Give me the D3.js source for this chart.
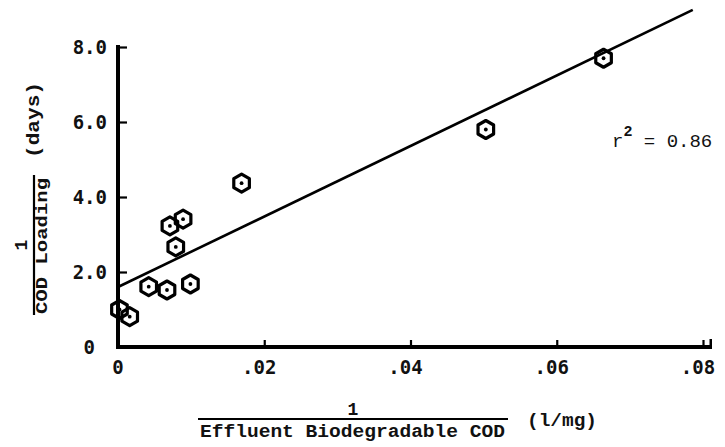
<!DOCTYPE html>
<html>
<head>
<meta charset="utf-8">
<script src="https://cdn.jsdelivr.net/npm/d3@7/dist/d3.min.js"></script>
<style>
  html, body { margin: 0; padding: 0; background: #fff; }
  svg { display: block; }
  .tick-label { font-family: "DejaVu Sans Mono", monospace; font-weight: bold; font-size: 19px; fill: #111; }
  .title { font-family: "Liberation Mono", "Courier New", monospace; font-weight: bold; fill: #111; }
</style>
</head>
<body>
<svg id="chart" width="725" height="447"></svg>
<script>
// Observations: reciprocal effluent biodegradable COD (l/mg) vs reciprocal COD loading (days)
const invEffluentCOD = [0.0002, 0.0016, 0.0042, 0.0067, 0.0071, 0.0079, 0.0089, 0.0099, 0.0169, 0.0503, 0.0664];
const invCODLoading  = [1.00,   0.81,   1.61,   1.52,   3.23,   2.67,   3.41,   1.68,   4.37,   5.80,   7.70];

// Least-squares fit line
const fitIntercept = 1.60;
const fitSlope = 94.0;
const fitXRange = [0, 0.0786];
const rSquared = "0.86";

// Axis ticks
const xTicks = [0, 0.02, 0.04, 0.06, 0.08];
const xTickLabels = ["0", ".02", ".04", ".06", ".08"];
const yTicks = [0, 2, 4, 6, 8];
const yTickLabels = ["0", "2.0", "4.0", "6.0", "8.0"];

const svg = d3.select("#chart");
const x = d3.scaleLinear().domain([0, 0.08]).range([118, 703]);
const y = d3.scaleLinear().domain([0, 8]).range([347, 47]);

const ink = "#000";

// Axes: heavy frame lines with short inward ticks
const xAxis = d3.axisTop(x).tickValues(xTicks.slice(1)).tickSize(7).tickFormat("");
const gx = svg.append("g").attr("transform", `translate(0,${y(0)})`).call(xAxis);
gx.select(".domain").remove();
gx.selectAll(".tick line").attr("stroke", ink).attr("stroke-width", 2.2);

const yAxis = d3.axisRight(y).tickValues(yTicks.slice(1)).tickSize(9).tickFormat("");
const gy = svg.append("g").attr("transform", `translate(${x(0)},0)`).call(yAxis);
gy.select(".domain").remove();
gy.selectAll(".tick line").attr("stroke", ink).attr("stroke-width", 2.2);

const axisW = 4;
const xEnd = x(0.08) + 9;
const frame = svg.append("g").attr("fill", ink);
frame.append("rect").attr("x", x(0) - axisW / 2).attr("y", y(8) - 2)
  .attr("width", axisW).attr("height", y(0) - y(8) + 2 + axisW / 2);
frame.append("rect").attr("x", x(0) - axisW / 2).attr("y", y(0) - axisW / 2)
  .attr("width", xEnd - x(0) + axisW / 2).attr("height", axisW);
frame.append("rect").attr("x", xEnd - 2.5).attr("y", y(0) - 8)
  .attr("width", 2.5).attr("height", 8);

// Tick labels
svg.append("g").selectAll("text").data(xTicks).join("text")
  .attr("class", "tick-label")
  .attr("x", (d, i) => x(d) - (i === 0 ? 0 : 5))
  .attr("y", 374)
  .attr("text-anchor", "middle")
  .text((d, i) => xTickLabels[i]);

svg.append("g").selectAll("text").data(yTicks).join("text")
  .attr("class", "tick-label")
  .attr("x", (d, i) => i === 0 ? 95 : 107)
  .attr("y", d => y(d) + 7)
  .attr("text-anchor", "end")
  .text((d, i) => yTickLabels[i]);

// Regression line
svg.append("path")
  .datum(fitXRange)
  .attr("d", d3.line().x(d => x(d)).y(d => y(fitIntercept + fitSlope * d)))
  .attr("fill", "none").attr("stroke", ink).attr("stroke-width", 2.6);

// Hexagonal markers with centre dots
const hex = d3.range(6).map(k => [9 * Math.cos(k * Math.PI / 3 + Math.PI / 6), 9 * Math.sin(k * Math.PI / 3 + Math.PI / 6)]);
const hexPath = "M" + hex.map(p => p.join(",")).join("L") + "Z";
const pts = svg.append("g").selectAll("g").data(invEffluentCOD).join("g")
  .attr("transform", (d, i) => `translate(${x(d)},${y(invCODLoading[i])})`);
pts.append("path").attr("d", hexPath)
  .attr("fill", "none").attr("stroke", ink).attr("stroke-width", 3.2).attr("stroke-linejoin", "round");
pts.append("circle").attr("r", 1.9).attr("fill", ink);

// r-squared annotation
const r2 = svg.append("text").attr("class", "title").attr("x", 612).attr("y", 147)
  .style("font-size", "19px").style("font-weight", "normal");
r2.append("tspan").text("r");
r2.append("tspan").attr("dy", -11).style("font-size", "15px").style("font-weight", "bold").text("2");
r2.append("tspan").attr("dy", 11).text(" = " + rSquared);

// X axis title (fraction)
const xTitle = svg.append("g");
xTitle.append("text").attr("class", "title").attr("x", 353).attr("y", 415)
  .attr("text-anchor", "middle").style("font-size", "18px").text("1");
xTitle.append("line").attr("x1", 198).attr("x2", 508).attr("y1", 419).attr("y2", 419)
  .attr("stroke", ink).attr("stroke-width", 2);
xTitle.append("text").attr("class", "title").attr("x", 200).attr("y", 437)
  .attr("textLength", 305).attr("lengthAdjust", "spacingAndGlyphs")
  .style("font-size", "18px").text("Effluent Biodegradable COD");
xTitle.append("text").attr("class", "title").attr("x", 527).attr("y", 426)
  .attr("textLength", 70).attr("lengthAdjust", "spacingAndGlyphs")
  .style("font-size", "18px").text("(l/mg)");

// Y axis title (fraction), rotated
const yTitle = svg.append("g").attr("transform", "translate(34,245) rotate(-90)");
yTitle.append("text").attr("class", "title").attr("x", 0).attr("y", -7)
  .attr("text-anchor", "middle").style("font-size", "18px").text("1");
yTitle.append("line").attr("x1", -70).attr("x2", 70).attr("y1", 0).attr("y2", 0)
  .attr("stroke", ink).attr("stroke-width", 2.2);
yTitle.append("text").attr("class", "title").attr("x", -69).attr("y", 13)
  .attr("textLength", 136).attr("lengthAdjust", "spacingAndGlyphs")
  .style("font-size", "17px").text("COD Loading");
yTitle.append("text").attr("class", "title").attr("x", 87).attr("y", 5)
  .attr("textLength", 76).attr("lengthAdjust", "spacingAndGlyphs")
  .style("font-size", "18px").text("(days)");
</script>
</body>
</html>
